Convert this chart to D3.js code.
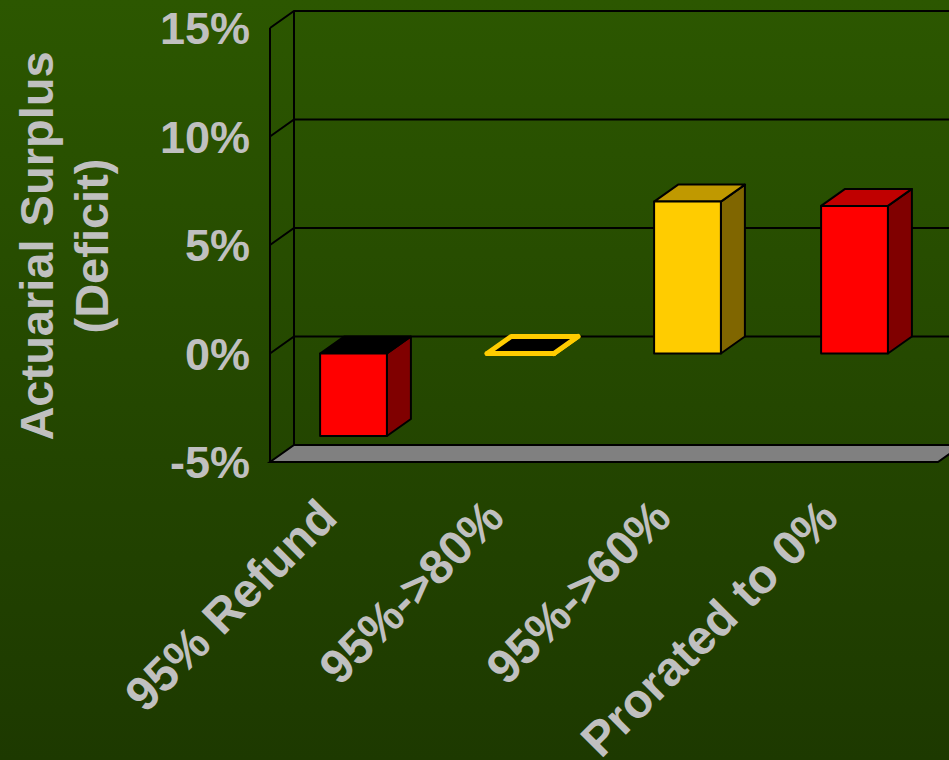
<!DOCTYPE html>
<html>
<head>
<meta charset="utf-8">
<script src="https://cdn.jsdelivr.net/npm/d3@7/dist/d3.min.js"></script>
<style>
  html, body { margin: 0; padding: 0; background: #24470a; }
  svg { display: block; }
</style>
</head>
<body>
<script>
// Funding outcome by refund rule (percent)
const categories = ["95% Refund", "95%->80%", "95%->60%", "Prorated to 0%"];
const values = [-3.8, 0, 7.0, 6.8];
const yTicks = [-5, 0, 5, 10, 15];
const axisTitle = ["Actuarial Surplus", "(Deficit)"];

// Face colours per bar: front, top, side, edge
const frontColors = ["#FF0000", "#FFCC00", "#FFCC00", "#FF0000"];
const topColors   = ["#000000", "#000000", "#C09900", "#C00000"];
const sideColors  = ["#800000", "#806600", "#806600", "#800000"];
const edgeColors  = ["#000000", "#FFCC00", "#000000", "#000000"];
const edgeWidths  = [2, 5, 2, 2];

const W = 949, H = 760;
const svg = d3.select("body").append("svg").attr("width", W).attr("height", H);

const defs = svg.append("defs");
const grad = defs.append("linearGradient").attr("id", "bg")
  .attr("x1", 0).attr("y1", 0).attr("x2", 0).attr("y2", 1);
grad.append("stop").attr("offset", "0%").attr("stop-color", "#2c5700");
grad.append("stop").attr("offset", "100%").attr("stop-color", "#1d3900");
svg.append("rect").attr("width", W).attr("height", H).attr("fill", "url(#bg)");

// Front plane geometry and depth offset of the 3D box
const left = 270, right = 938;
const depth = { dx: 24, dy: -17 };

const y = d3.scaleLinear().domain([-5, 15]).range([462, 28]);
const x = d3.scaleBand().domain(categories).range([left, right])
  .paddingInner(0.6).paddingOuter(0.3);

const [yMin, yMax] = y.domain();
const back = (px, py) => [px + depth.dx, py + depth.dy];
const poly = pts => "M" + pts.map(p => p.join(",")).join("L") + "Z";

const g = svg.append("g");

// Floor
g.append("path")
  .attr("d", poly([[left, y(yMin)], [right, y(yMin)], back(right, y(yMin)), back(left, y(yMin))]))
  .attr("fill", "#808080").attr("stroke", "#000").attr("stroke-width", 2)
  .attr("stroke-linejoin", "miter");

// Gridlines on side wall and back wall
yTicks.filter(t => t > yMin).forEach(t => {
  const yf = y(t);
  const [bx, by] = back(left, yf);
  g.append("path")
    .attr("d", `M${left},${yf}L${bx},${by}L${back(right, yf)[0]},${by}`)
    .attr("fill", "none").attr("stroke", "#000").attr("stroke-width", 2);
});

// Wall edges
g.append("line").attr("x1", left).attr("y1", y(yMin)).attr("x2", left).attr("y2", y(yMax))
  .attr("stroke", "#000").attr("stroke-width", 2);
g.append("line")
  .attr("x1", back(left, 0)[0]).attr("y1", back(0, y(yMin))[1])
  .attr("x2", back(left, 0)[0]).attr("y2", back(0, y(yMax))[1])
  .attr("stroke", "#000").attr("stroke-width", 2);

// Bars
categories.forEach((c, i) => {
  const v = values[i];
  const x0 = x(c), x1 = x(c) + x.bandwidth();
  const yt = y(Math.max(v, 0)), yb = y(Math.min(v, 0));
  const bar = g.append("g")
    .attr("stroke", edgeColors[i]).attr("stroke-width", edgeWidths[i])
    .attr("stroke-linejoin", "round");
  // right side
  bar.append("path")
    .attr("d", poly([[x1, yt], back(x1, yt), back(x1, yb), [x1, yb]]))
    .attr("fill", sideColors[i]);
  // top
  bar.append("path")
    .attr("d", poly([[x0, yt], [x1, yt], back(x1, yt), back(x0, yt)]))
    .attr("fill", topColors[i]);
  // front
  bar.append("path")
    .attr("d", poly([[x0, yt], [x1, yt], [x1, yb], [x0, yb]]))
    .attr("fill", frontColors[i]);
});

const font = "'Liberation Sans', Arial, Helvetica, sans-serif";
const labelColor = "#c0c0c0";

// Value axis tick labels
svg.append("g").selectAll("text").data(yTicks).join("text")
  .attr("x", 250).attr("y", d => y(d))
  .attr("dy", "0.36em")
  .attr("text-anchor", "end")
  .attr("font-family", font).attr("font-weight", "bold").attr("font-size", 45)
  .attr("fill", labelColor)
  .text(d => d + "%");

// Category labels, slanted
svg.append("g").selectAll("text").data(categories).join("text")
  .attr("transform", d => `translate(${x(d) + x.bandwidth() / 2 - 14},520) rotate(-45)`)
  .attr("text-anchor", "end")
  .attr("font-family", font).attr("font-weight", "bold").attr("font-size", 48)
  .attr("fill", labelColor)
  .text(d => d);

// Axis title
svg.append("g").selectAll("text").data(axisTitle).join("text")
  .attr("transform", (d, i) => `translate(${53 + i * 55},246) rotate(-90)`)
  .attr("text-anchor", "middle")
  .attr("font-family", font).attr("font-weight", "bold").attr("font-size", 47)
  .attr("fill", labelColor)
  .text(d => d);
</script>
</body>
</html>
